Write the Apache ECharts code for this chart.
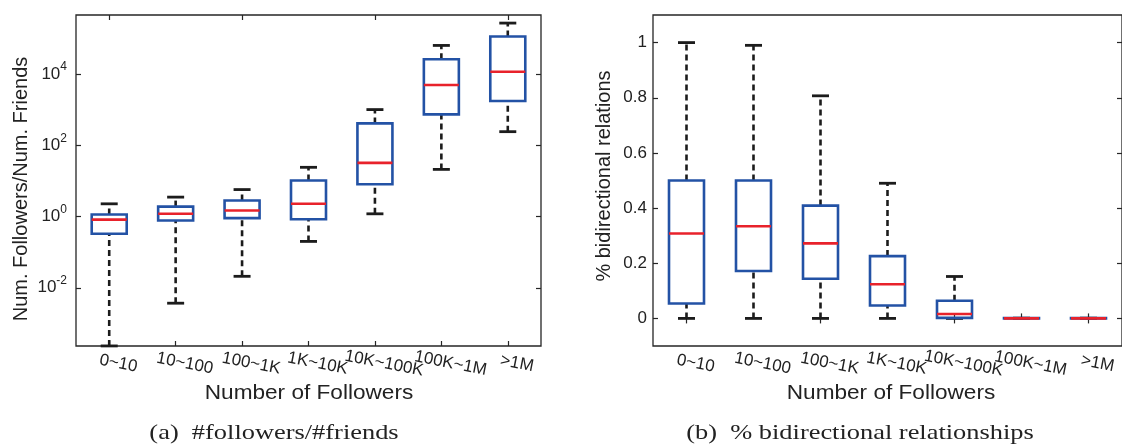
<!DOCTYPE html>
<html><head><meta charset="utf-8">
<script src="https://cdn.jsdelivr.net/npm/echarts@6/dist/echarts.min.js"></script>
<style>html,body{margin:0;padding:0;background:#fff}#c{width:1122px;height:447px}</style>
</head><body><div id="c"></div>
<script>
// Categories (number of followers)
const categories = ['0~10', '10~100', '100~1K', '1K~10K', '10K~100K', '100K~1M', '>1M'];

// (a) Num. Followers / Num. Friends  (box stats: lower whisker, Q1, median, Q3, upper whisker)
const ratioLow    = [0.000234, 0.0037, 0.021, 0.20, 1.19, 21, 240];
const ratioQ1     = [0.33, 0.77, 0.90, 0.84, 8, 735, 1740];
const ratioMedian = [0.82, 1.19, 1.47, 2.27, 32, 4900, 11500];
const ratioQ3     = [1.14, 1.90, 2.80, 10.2, 410, 25700, 112000];
const ratioHigh   = [2.27, 3.5, 5.7, 24, 1000, 63000, 267000];
const ratioTicks  = [0.01, 1, 100, 10000];
const ratioMin = 0.000233, ratioMax = 450000;

// (b) % bidirectional relations
const biLow    = [0, 0, 0, 0, 0, 0, 0];
const biQ1     = [0.054, 0.172, 0.144, 0.047, 0.002, 0, 0];
const biMedian = [0.308, 0.334, 0.272, 0.124, 0.016, 0, 0];
const biQ3     = [0.50, 0.50, 0.409, 0.226, 0.064, 0.001, 0.001];
const biHigh   = [1.0, 0.99, 0.807, 0.49, 0.152, 0.001, 0.001];
const biTicks  = [0, 0.2, 0.4, 0.6, 0.8, 1];
const biMin = -0.1, biMax = 1.1;

// Texts
const xTitle = 'Number of Followers';
const yTitleA = 'Num. Followers/Num. Friends';
const yTitleB = '% bidirectional relations';
const captionA = '(a)  #followers/#friends';
const captionB = '(b)  % bidirectional relationships';

function rows(lo, q1, md, q3, hi) {
  return categories.map((c, i) => [i, lo[i], q1[i], md[i], q3[i], hi[i]]);
}

const BLUE = '#2352a5', RED = '#e8222b', INK = '#1c1c1c', AX = '#262626';
const FONT = '"Liberation Sans", Arial, sans-serif';
const SERIF = '"Liberation Serif", serif';

function renderBox(params, api) {
  const x = api.value(0);
  const low = api.coord([x, api.value(1)]);
  const q1 = api.coord([x, api.value(2)]);
  const med = api.coord([x, api.value(3)]);
  const q3 = api.coord([x, api.value(4)]);
  const high = api.coord([x, api.value(5)]);
  const cx = low[0];
  const bw = 35, cw = 17;
  const dash = { stroke: INK, lineWidth: 2.6, lineDash: [6, 4], fill: null };
  const cap = { stroke: INK, lineWidth: 2.8, fill: null };
  return {
    type: 'group',
    children: [
      { type: 'line', shape: { x1: cx, y1: q3[1], x2: cx, y2: high[1] }, style: dash },
      { type: 'line', shape: { x1: cx, y1: low[1], x2: cx, y2: q1[1] }, style: dash },
      { type: 'line', shape: { x1: cx - cw / 2, y1: high[1], x2: cx + cw / 2, y2: high[1] }, style: cap },
      { type: 'line', shape: { x1: cx - cw / 2, y1: low[1], x2: cx + cw / 2, y2: low[1] }, style: cap },
      { type: 'rect', shape: { x: cx - bw / 2, y: q3[1], width: bw, height: q1[1] - q3[1] },
        style: { fill: 'none', stroke: BLUE, lineWidth: 2.6 } },
      { type: 'line', shape: { x1: cx - bw / 2, y1: med[1], x2: cx + bw / 2, y2: med[1] },
        style: { stroke: RED, lineWidth: 2.6, fill: null } }
    ]
  };
}

function catAxis(gridIndex, bottom) {
  const a = {
    gridIndex, type: 'category', data: categories, position: bottom ? 'bottom' : 'top',
    axisLine: { show: false },
    axisTick: { show: true, inside: true, length: 5, alignWithLabel: true, lineStyle: { color: AX, width: 1.2 } },
    axisLabel: { show: false },
    splitLine: { show: false }
  };
  if (bottom) {
    a.axisLabel = {
      show: true, interval: 0, rotate: -11, align: 'center', verticalAlign: 'top', margin: 7,
      padding: [0, 0, 0, 22], fontSize: 17, fontFamily: FONT, color: '#222'
    };
  }
  return a;
}

const supFmt = v => {
  const e = Math.round(Math.log10(v));
  return '{b|10}{s|' + e + '}';
};

function titleText(text, x, y, opts) {
  return Object.assign({ type: 'text', x, y, silent: true,
    style: { text, font: '20px ' + FONT, fill: '#222', textAlign: 'center', textVerticalAlign: 'middle' } }, opts || {});
}

const option = {
  animation: false,
  backgroundColor: '#fff',
  grid: [
    { left: 76, top: 15, width: 465, height: 331, show: true, borderColor: AX, borderWidth: 1.3, backgroundColor: 'transparent' },
    { left: 653, top: 15, width: 471, height: 331, show: true, borderColor: AX, borderWidth: 1.3, backgroundColor: 'transparent' }
  ],
  xAxis: [catAxis(0, true), catAxis(0, false), catAxis(1, true), catAxis(1, false)],
  yAxis: [
    {
      gridIndex: 0, type: 'log', logBase: 10, min: ratioMin, max: ratioMax, position: 'left',
      axisLine: { show: false },
      axisTick: { show: true, inside: true, length: 5, customValues: ratioTicks, lineStyle: { color: AX, width: 1.2 } },
      axisLabel: {
        show: true, customValues: ratioTicks, formatter: supFmt, margin: 9,
        rich: {
          b: { fontSize: 17, fontFamily: FONT, color: '#222' },
          s: { fontSize: 12, fontFamily: FONT, color: '#222', padding: [0, 0, 14, 0] }
        }
      },
      splitLine: { show: false }
    },
    {
      gridIndex: 0, type: 'log', logBase: 10, min: ratioMin, max: ratioMax, position: 'right',
      axisLine: { show: false },
      axisTick: { show: true, inside: true, length: 5, customValues: ratioTicks, lineStyle: { color: AX, width: 1.2 } },
      axisLabel: { show: false }, splitLine: { show: false }
    },
    {
      gridIndex: 1, type: 'value', min: biMin, max: biMax, position: 'left',
      axisLine: { show: false },
      axisTick: { show: true, inside: true, length: 5, customValues: biTicks, lineStyle: { color: AX, width: 1.2 } },
      axisLabel: { show: true, customValues: biTicks, margin: 6, fontSize: 17, fontFamily: FONT, color: '#222',
        formatter: v => String(v) },
      splitLine: { show: false }
    },
    {
      gridIndex: 1, type: 'value', min: biMin, max: biMax, position: 'right',
      axisLine: { show: false },
      axisTick: { show: true, inside: true, length: 5, customValues: biTicks, lineStyle: { color: AX, width: 1.2 } },
      axisLabel: { show: false }, splitLine: { show: false }
    }
  ],
  series: [
    { type: 'custom', name: 'ratio', xAxisIndex: 0, yAxisIndex: 0, clip: false,
      renderItem: renderBox, encode: { x: 0, y: [1, 2, 3, 4, 5] },
      data: rows(ratioLow, ratioQ1, ratioMedian, ratioQ3, ratioHigh) },
    { type: 'custom', name: 'bidirectional', xAxisIndex: 2, yAxisIndex: 2, clip: false,
      renderItem: renderBox, encode: { x: 0, y: [1, 2, 3, 4, 5] },
      data: rows(biLow, biQ1, biMedian, biQ3, biHigh) }
  ],
  graphic: [
    titleText(xTitle, 309, 393, { scaleX: 1.13 }),
    titleText(xTitle, 891, 393, { scaleX: 1.13 }),
    titleText(yTitleA, 21, 189, { rotation: Math.PI / 2 }),
    titleText(yTitleB, 604, 176, { rotation: Math.PI / 2 }),
    { type: 'text', x: 274, y: 433, scaleX: 1.2, silent: true,
      style: { text: captionA, font: '22px ' + SERIF, fill: '#222', textAlign: 'center', textVerticalAlign: 'middle' } },
    { type: 'text', x: 860, y: 433, scaleX: 1.2, silent: true,
      style: { text: captionB, font: '22px ' + SERIF, fill: '#222', textAlign: 'center', textVerticalAlign: 'middle' } }
  ]
};

const chart = echarts.init(document.getElementById('c'), null, { renderer: 'canvas' });
chart.setOption(option);
</script>
</body></html>
